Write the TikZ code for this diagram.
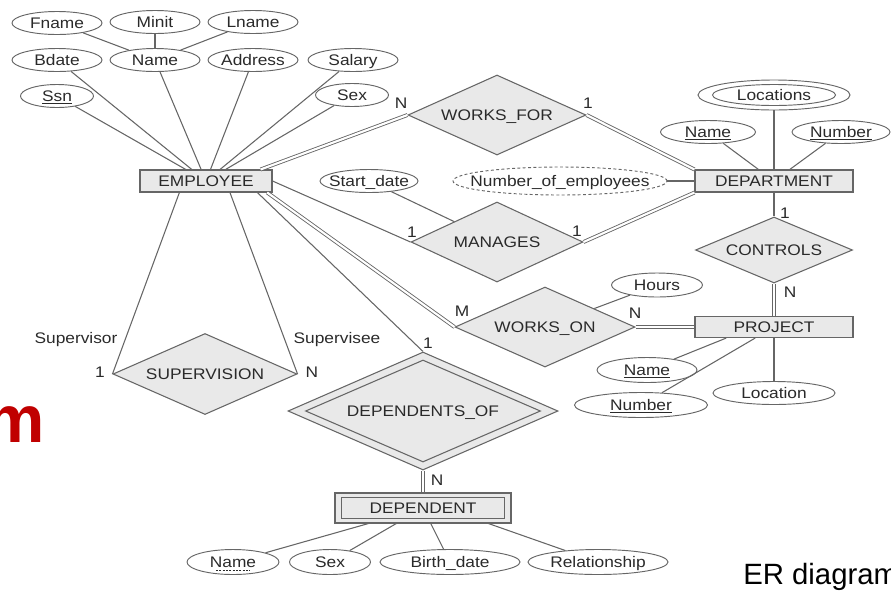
\documentclass[tikz,border=0pt]{standalone}
\usepackage{fontspec}
\setmainfont[FakeStretch=1.13]{Liberation Sans}
\newfontfamily\plainsans{Liberation Sans}
\usetikzlibrary{shapes.geometric,calc}
\definecolor{lc}{HTML}{666666}
\definecolor{fc}{HTML}{E9E9E9}
\definecolor{tc}{HTML}{2A2A2A}
\definecolor{rd}{HTML}{C00000}
\newcommand\mk[1]{\makebox[0pt]{#1}}
\begin{document}
\begin{tikzpicture}[x=0.75pt,y=-0.75pt,
  every node/.style={text=tc, font=\fontsize{11.5}{13}\selectfont},
  ln/.style={draw=lc, line width=0.8pt},
  dbl/.style={draw=lc, line width=0.65pt, double=white, double distance=1.6pt},
  attr/.style 2 args={ellipse, draw=lc, line width=0.7pt, fill=white, inner sep=0pt,
     text height=8.2pt, text depth=0pt, minimum width=#1*0.75pt, minimum height=#2*0.75pt},
  ent/.style 2 args={rectangle, draw=lc, line width=0.8pt, fill=fc, inner sep=0pt,
     text height=8.2pt, text depth=0pt, minimum width=#1*0.75pt, minimum height=#2*0.75pt},
  rel/.style 2 args={diamond, draw=lc, line width=0.8pt, fill=fc, inner sep=0pt,
     text height=8.2pt, text depth=0pt, minimum width=#1*0.75pt, minimum height=#2*0.75pt},
  card/.style={inner sep=0pt, text height=8.2pt, text depth=0pt}
]
\useasboundingbox (0,0) rectangle (891,590);

% ---- EMPLOYEE attributes
\node[attr={90}{23}] (fname) at (57,23) {\mk{Fname}};
\node[attr={90}{23}] (minit) at (155,22) {\mk{Minit}};
\node[attr={90}{23}] (lname) at (253,22) {\mk{Lname}};
\node[attr={90}{23}] (bdate) at (57,60) {\mk{Bdate}};
\node[attr={90}{23}] (ename) at (155,60) {\mk{Name}};
\node[attr={90}{23}] (address) at (253,60) {\mk{Address}};
\node[attr={90}{23}] (salary) at (353,60) {\mk{Salary}};
\node[attr={73}{23}] (ssn) at (57,96) {\mk{\underline{Ssn}}};
\node[attr={73}{23}] (sex) at (352,95) {\mk{Sex}};
\node[ent={132}{22}] (emp) at (206,181) {\mk{EMPLOYEE}};

% ---- relationships and entities
\node[rel={178}{80}] (worksfor) at (497,115) {\mk{WORKS\_FOR}};
\node[rel={172}{80}] (manages) at (497,242) {\mk{MANAGES}};
\node[attr={98}{23}] (startdate) at (369,181) {\mk{Start\_date}};
\node[ent={158}{22}] (dept) at (774,181) {\mk{DEPARTMENT}};
\node[attr={152}{30}] (locations) at (774,95) {};
\node[attr={123}{21}] (locin) at (774,95) {\mk{Locations}};
\node[attr={95}{23}] (dname) at (708,132) {\mk{\underline{Name}}};
\node[attr={98}{23}] (dnumber) at (841,132) {\mk{\underline{Number}}};
\node[attr={214}{28}, dash pattern=on 2.2pt off 1.8pt] (noe) at (560,181) {\mk{Number\_of\_employees}};
\node[rel={157}{66}] (controls) at (774,250) {\mk{CONTROLS}};
\node[ent={158}{21}] (project) at (774,327) {\mk{PROJECT}};
\node[rel={180}{80}] (workson) at (545,327) {\mk{WORKS\_ON}};
\node[attr={91}{24}] (hours) at (657,285) {\mk{Hours}};
\node[attr={100}{25}] (pname) at (647,370) {\mk{\underline{Name}}};
\node[attr={133}{25}] (pnumber) at (641,405) {\mk{\underline{Number}}};
\node[attr={122}{23}] (plocation) at (774,393) {\mk{Location}};
\node[rel={184}{81}] (supervision) at (205,374) {\mk{SUPERVISION}};
\node[rel={270}{118}] (depof) at (423,411) {};
\node[rel={235}{102}] (depofin) at (423,411) {\mk{DEPENDENTS\_OF}};
\node[ent={176}{30}] (dependent) at (423,508) {};
\node[ent={163}{21}] (dependentin) at (423,508) {\mk{DEPENDENT}};
\node[attr={92}{25}] (depname) at (233,562) {\mk{Name}};
\draw[draw=tc, line width=0.5pt, dash pattern=on 1.5pt off 1pt]
  ($(depname.center)+(-17,8)$) -- ($(depname.center)+(17,8)$);
\node[attr={81}{25}] (depsex) at (330,562) {\mk{Sex}};
\node[attr={140}{25}] (birth) at (450,562) {\mk{Birth\_date}};
\node[attr={140}{25}] (relship) at (598,562) {\mk{Relationship}};

% ---- connectors: attributes
\draw[ln] (fname) -- (ename);
\draw[ln] (minit) -- (ename);
\draw[ln] (lname) -- (ename);
\draw[ln] (bdate) -- (emp);
\draw[ln] (ename) -- (emp);
\draw[ln] (address) -- (emp);
\draw[ln] (salary) -- (emp);
\draw[ln] (ssn) -- (emp);
\draw[ln] (sex) -- (emp);
\draw[ln] (locations) -- (dept);
\draw[ln] (dname) -- (dept);
\draw[ln] (dnumber) -- (dept);
\draw[ln] (noe) -- (dept);
\draw[ln] (startdate) -- (manages);
\draw[ln] (hours) -- (workson);
\draw[ln] (pname) -- ($(project.south west)!0.2!(project.south east)$);
\draw[ln] (pnumber) -- (project);
\draw[ln] (plocation) -- (project);
\draw[ln] (depname) -- (dependent);
\draw[ln] (depsex) -- (dependent);
\draw[ln] (birth) -- (dependent);
\draw[ln] (relship) -- ($(dependent.south east)!0.13!(dependent.south west)$);

% ---- connectors: relationships
\draw[dbl] ($(emp.north west)!0.91!(emp.north east)$) -- (worksfor.west);
\draw[dbl] (worksfor.east) -- (dept.north west);
\draw[ln] (emp.east) -- (manages.west);
\draw[dbl] (manages.east) -- (dept.south west);
\draw[ln] (dept.south) -- (controls.north);
\draw[dbl] (controls.south) -- (project.north);
\draw[dbl] ($(emp.south west)!0.96!(emp.south east)$) -- (workson.west);
\draw[dbl] (workson.east) -- (project.west);
\draw[ln] ($(emp.south west)!0.30!(emp.south east)$) -- (supervision.west);
\draw[ln] ($(emp.south west)!0.68!(emp.south east)$) -- (supervision.east);
\draw[ln] ($(emp.south west)!0.886!(emp.south east)$) -- (depof.north);
\draw[dbl] (depof.south) -- (dependent.north);

% ---- cardinalities and roles
\node[card] (c1) at (401,103) {N};
\node[card] (c2) at (588,103) {1};
\node[card] (c3) at (412,232) {1};
\node[card] (c4) at (577,231) {1};
\node[card] (c5) at (785,213) {1};
\node[card] (c6) at (790,292) {N};
\node[card] (c7) at (462,311) {M};
\node[card] (c8) at (635,313) {N};
\node[card] (c9) at (100,372) {1};
\node[card] (c10) at (312,372) {N};
\node[card] (c11) at (428,343) {1};
\node[card] (c12) at (437,480) {N};
\node[card] (supervisor) at (76,338) {Supervisor};
\node[card] (supervisee) at (337,338) {Supervisee};

% ---- page texts (cut off at the page edges, as in the reference)
\node[anchor=base west, inner sep=0pt, text=black, font=\plainsans\fontsize{22}{26}\selectfont] (er) at (743,584) {ER diagram};
\node[anchor=base east, inner sep=0pt, text=rd, font=\plainsans\bfseries\fontsize{50}{60}\selectfont] (redm) at (45,442) {m};
\end{tikzpicture}
\end{document}
